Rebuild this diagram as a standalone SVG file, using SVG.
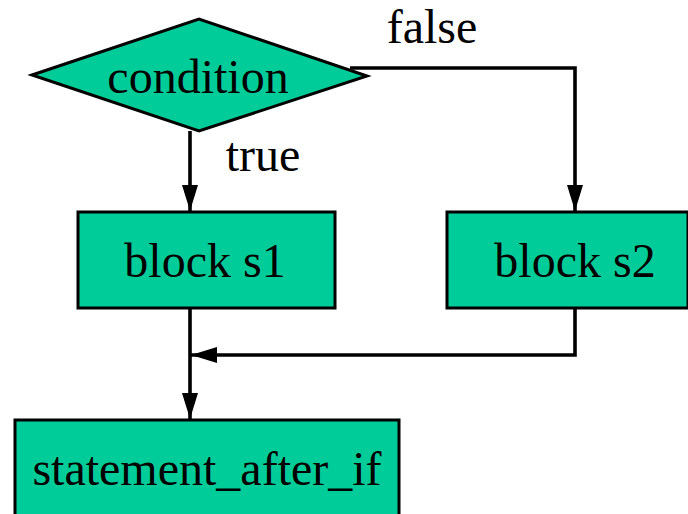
<svg xmlns="http://www.w3.org/2000/svg" width="688" height="514" viewBox="0 0 688 514">
  <style>
    .shape { fill: #00CC99; stroke: #000; stroke-width: 3; }
    .label { font-family: 'Liberation Serif', 'Times New Roman', serif; font-size: 48px; fill: #000; text-anchor: middle; }
    .wire { fill: none; stroke: #000; stroke-width: 3.6; }
  </style>
  <defs>
    <marker id="arrow" viewBox="0 0 26 16" refX="26" refY="8" markerWidth="26" markerHeight="16" markerUnits="userSpaceOnUse" orient="auto">
      <path d="M0,0 L26,8 L0,16 Z" fill="#000"/>
    </marker>
  </defs>

  <!-- connectors and branch labels -->
  <g id="connectors">
    <path class="wire" d="M350,68 H575 V211" marker-end="url(#arrow)"/>
    <path class="wire" d="M190,131 V211" marker-end="url(#arrow)"/>
    <path class="wire" d="M190,308 V419" marker-end="url(#arrow)"/>
    <path class="wire" d="M575,308 V355 H191" marker-end="url(#arrow)"/>
    <text class="label" x="432" y="43">false</text>
    <text class="label" x="263" y="171">true</text>
  </g>

  <g id="condition">
    <polygon class="shape" points="32,75 199,19 367,76 199,131"/>
    <text class="label" x="198" y="93">condition</text>
  </g>

  <g id="block-s1">
    <rect class="shape" x="78" y="212" width="257" height="96"/>
    <text class="label" x="205" y="277">block s1</text>
  </g>

  <g id="block-s2">
    <rect class="shape" x="447" y="212" width="241" height="96"/>
    <text class="label" x="575" y="277">block s2</text>
  </g>

  <g id="statement-after-if">
    <rect class="shape" x="15" y="420" width="384" height="100"/>
    <text class="label" x="207" y="485">statement_after_if</text>
  </g>
</svg>
